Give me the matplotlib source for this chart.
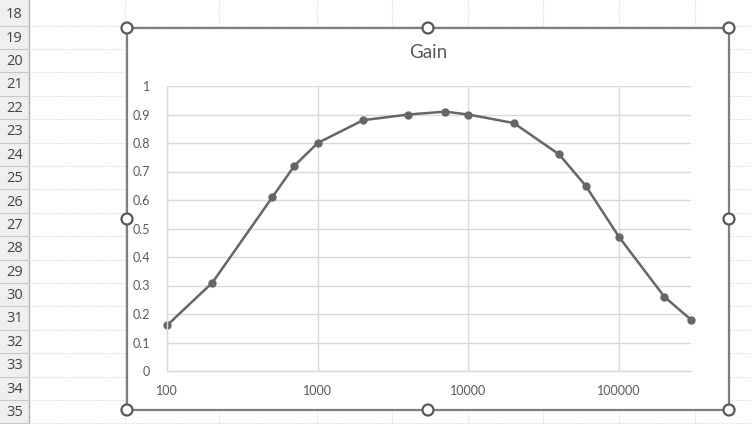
import matplotlib
matplotlib.use("Agg")
import matplotlib.pyplot as plt
from matplotlib.patches import Rectangle, Circle
from matplotlib.ticker import FixedLocator, NullLocator, FixedFormatter

# ---- data ----
freq = [100, 200, 500, 700, 1000, 2000, 4000, 7000, 10000, 20000, 40000, 60000, 100000, 200000, 300000]
gain = [0.16, 0.31, 0.61, 0.72, 0.80, 0.88, 0.90, 0.91, 0.90, 0.87, 0.76, 0.65, 0.47, 0.26, 0.18]
title = "Gain"
y_ticks = [0, 0.1, 0.2, 0.3, 0.4, 0.5, 0.6, 0.7, 0.8, 0.9, 1]
y_labels = ["0", "0.1", "0.2", "0.3", "0.4", "0.5", "0.6", "0.7", "0.8", "0.9", "1"]
x_ticks = [100, 1000, 10000, 100000]
x_labels = ["100", "1000", "10000", "100000"]
row_numbers = list(range(18, 36))

W, H = 752, 424
fig = plt.figure(figsize=(W / 100, H / 100), dpi=100)
fig.patch.set_facecolor("white")

def fx(px):
    return px / W

def fy(py):
    return 1 - py / H

# ---- spreadsheet background ----
bg = fig.add_axes([0, 0, 1, 1])
bg.set_xlim(0, W)
bg.set_ylim(H, 0)
bg.axis("off")

hdr_w = 29
bg.add_patch(Rectangle((0, 0), hdr_w, H, facecolor="#efefef", edgecolor="none", zorder=1))
bg.plot([hdr_w, hdr_w], [0, H], color="#b0b0b0", lw=1, zorder=2)

row_h = 23.4
first_line = 25.5
for i, r in enumerate(row_numbers):
    yc = first_line - row_h / 2 + i * row_h
    bg.text(hdr_w / 2, yc + 1, str(r), ha="center", va="center", fontsize=10.5,
            color="#444444", family="Open Sans", zorder=3)
for i in range(len(row_numbers)):
    yl = first_line + i * row_h
    bg.plot([0, hdr_w], [yl, yl], color="#c8c8c8", lw=0.8, zorder=2)
    bg.plot([hdr_w, W], [yl, yl], color="#dcdcdc", lw=0.8, ls=(0, (1, 1)), zorder=2)
for xc in [125, 219, 317, 392, 468, 543, 619, 695]:
    bg.plot([xc, xc], [0, H], color="#dcdcdc", lw=0.8, ls=(0, (1, 1)), zorder=2)

# chart area
cx0, cy0, cx1, cy1 = 127, 28, 729, 410
bg.add_patch(Rectangle((cx0, cy0), cx1 - cx0, cy1 - cy0, facecolor="white",
                       edgecolor="#7f7f7f", lw=1.6, zorder=4))
cxm, cym = (cx0 + cx1) / 2, (cy0 + cy1) / 2
for hx, hy in [(cx0, cy0), (cxm, cy0), (cx1, cy0), (cx0, cym), (cx1, cym),
               (cx0, cy1), (cxm, cy1), (cx1, cy1)]:
    bg.add_patch(Circle((hx, hy), 5.5, facecolor="white", edgecolor="#595959", lw=1.6, zorder=6))

bg.text(cxm, 53, title, ha="center", va="center", fontsize=13.5, color="#595959",
        family="Lato", zorder=5)

# ---- plot area ----
px0, py0, px1, py1 = 167, 86, 691, 371
ax = fig.add_axes([fx(px0), fy(py1), fx(px1) - fx(px0), fy(py0) - fy(py1)])
ax.set_facecolor("none")
ax.set_zorder(5)
ax.set_xscale("log")
ax.set_xlim(100, 300000)
ax.set_ylim(0, 1)
ax.xaxis.set_major_locator(FixedLocator(x_ticks))
ax.xaxis.set_major_formatter(FixedFormatter(x_labels))
ax.xaxis.set_minor_locator(NullLocator())
ax.yaxis.set_major_locator(FixedLocator(y_ticks))
ax.yaxis.set_major_formatter(FixedFormatter(y_labels))
ax.grid(True, color="#d9d9d9", lw=1)
ax.set_axisbelow(True)
for s in ["top", "right"]:
    ax.spines[s].set_visible(False)
for s in ["left", "bottom"]:
    ax.spines[s].set_color("#d9d9d9")
    ax.spines[s].set_linewidth(1)
ax.tick_params(axis="both", length=0, labelsize=9, labelcolor="#595959")
ax.tick_params(axis="x", pad=10)
ax.tick_params(axis="y", pad=12)
for lab in ax.get_xticklabels() + ax.get_yticklabels():
    lab.set_family("Lato")

ax.plot(freq, gain, color="#666666", lw=1.8, marker="o", markersize=5,
        markerfacecolor="#666666", markeredgecolor="#666666", clip_on=False)

fig.savefig("out.png", dpi=100, facecolor="white")
